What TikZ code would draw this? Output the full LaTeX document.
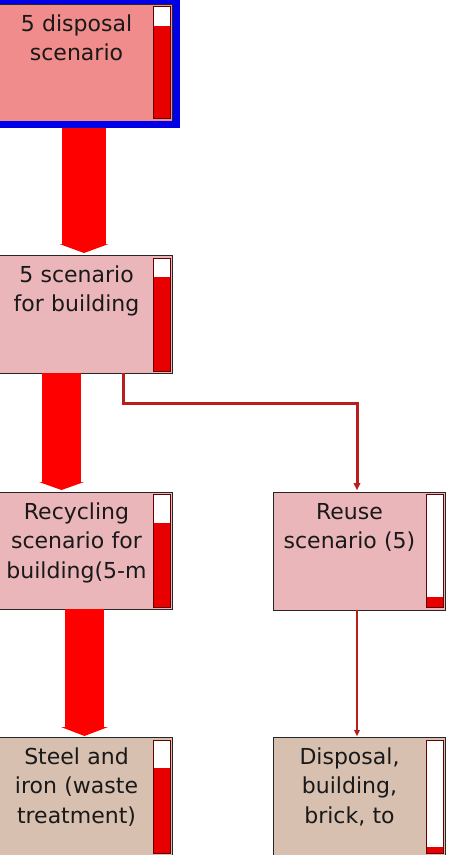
\documentclass[tikz,border=0pt]{standalone}
\usepackage{fontspec}
\setmainfont{DejaVu Sans}
\usetikzlibrary{arrows.meta}
\definecolor{boxA}{RGB}{240,140,140}
\definecolor{boxB}{RGB}{234,182,186}
\definecolor{boxC}{RGB}{216,192,176}
\definecolor{flow}{RGB}{255,0,0}
\definecolor{linkred}{RGB}{185,30,30}
\definecolor{gred}{RGB}{232,0,0}
\definecolor{selblue}{RGB}{0,0,230}
\newcommand{\gaugebar}[4]{%
  \fill[white] (#1,#2) rectangle (#1+17,#3);
  \fill[gred] (#1,#4) rectangle (#1+17,#3);
  \draw[gaugeline] (#1,#2) rectangle (#1+17,#3);}
\begin{document}
\begin{tikzpicture}[x=1pt,y=-1pt,
  proc/.style={draw=black!85,line width=0.8pt,rectangle,inner sep=0pt,outer sep=0pt,anchor=north west},
  lbl/.style={font=\fontsize{22}{29.5}\selectfont,text width=160pt,align=center,inner sep=0pt,anchor=base,text=black!90},
  gaugeline/.style={draw=black!60!red,line width=0.8pt},
  bigflow/.style={draw=flow,line width=#1},
  link/.style={draw=linkred}]
\useasboundingbox (0,0) rectangle (449,855);
% boxes
\node[proc,fill=boxA,minimum width=175.5pt,minimum height=117pt] (b1) at (-3,4) {};
\node[proc,fill=boxB,minimum width=174pt,minimum height=118pt] (b2) at (-2,255) {};
\node[proc,fill=boxB,minimum width=174pt,minimum height=117pt] (b3) at (-2,492) {};
\node[proc,fill=boxB,minimum width=172pt,minimum height=118pt] (b4) at (273,492) {};
\node[proc,fill=boxC,minimum width=174pt,minimum height=123pt] (b5) at (-2,737) {};
\node[proc,fill=boxC,minimum width=172pt,minimum height=123pt] (b6) at (273,737) {};
% gauges
\gaugebar{153}{6}{118}{26}
\gaugebar{153}{258}{371}{277}
\gaugebar{153}{494}{607}{523}
\gaugebar{426}{494}{607}{597}
\gaugebar{153}{740}{853}{768}
\gaugebar{426}{740}{853}{847}
% labels
\node[lbl] (t1) at (76.5,31) {5 disposal\\scenario};
\node[lbl] (t2) at (76.5,282) {5 scenario\\for building};
\node[lbl] (t3) at (76.5,519) {Recycling\\scenario for\\building(5-m};
\node[lbl] (t4) at (349.5,519) {Reuse\\scenario (5)};
\node[lbl] (t5) at (76.5,764) {Steel and\\iron (waste\\treatment)};
\node[lbl] (t6) at (349.5,764) {Disposal,\\building,\\brick, to};
% flows
\draw[bigflow=44pt,-{Triangle[width=49pt,length=9pt,line width=0pt]},shorten >=2pt]
  ([xshift=87pt]b1.south west) -- ([xshift=86pt]b2.north west);
\draw[bigflow=39pt,-{Triangle[width=45pt,length=8pt,line width=0pt]},shorten >=2pt]
  ([xshift=63.5pt]b2.south west) -- ([xshift=63.5pt]b3.north west);
\draw[bigflow=39pt,-{Triangle[width=47pt,length=9pt,line width=0pt]},shorten >=1pt]
  ([xshift=86.5pt]b3.south west) -- ([xshift=86.5pt]b5.north west);
\draw[link,line width=3pt,-{Triangle[width=7pt,length=7pt,line width=0pt]},shorten >=2pt]
  ([xshift=125pt]b2.south west) -- ++(0,30) -| ([xshift=84pt]b4.north west);
\draw[link,line width=2.2pt,-{Triangle[width=6pt,length=6pt,line width=0pt]},shorten >=1pt]
  ([xshift=84pt]b4.south west) -- ([xshift=84pt]b6.north west);
% selection frame
\node[draw=selblue,line width=7pt,inner sep=0pt,outer sep=0pt,anchor=north west,
  minimum width=180pt,minimum height=124pt] (sel) at (-4,0.5) {};
\end{tikzpicture}
\end{document}
